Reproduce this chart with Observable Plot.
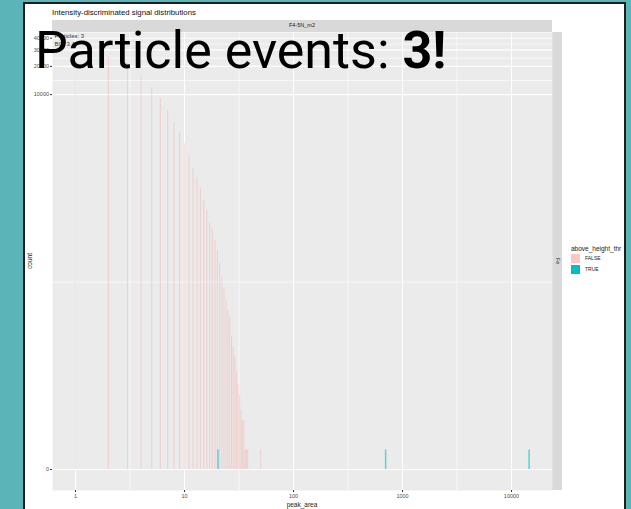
<!DOCTYPE html>
<html><head><meta charset="utf-8">
<script src="https://cdn.jsdelivr.net/npm/d3@7"></script>
<script src="https://cdn.jsdelivr.net/npm/@observablehq/plot@0.6"></script>
<style>
html,body{margin:0;padding:0;}
body{width:631px;height:509px;background:#5BB4B8;position:relative;overflow:hidden;font-family:"Liberation Sans",Arial,sans-serif;}
.abs{position:absolute;white-space:nowrap;line-height:1;}
#card{left:23px;top:2px;width:603px;height:512px;background:#fff;border:2px solid #1e1e1e;box-sizing:border-box;}
#chart{left:0;top:0;}
#title{left:52px;top:9px;font-size:7.8px;color:#111;}
#strip{left:52px;top:20px;width:500px;height:12px;background:#D9D9D9;font-size:5.5px;color:#1a1a1a;display:flex;align-items:center;justify-content:center;}
#rstrip{left:552px;top:32px;width:10px;height:458px;background:#D9D9D9;font-size:5px;color:#1a1a1a;}
#rstrip span{position:absolute;left:50%;top:50%;transform:translate(-50%,-50%) rotate(90deg);}
#ylab{left:30px;top:261px;font-size:6.5px;color:#1a1a1a;transform:translate(-50%,-50%) rotate(-90deg);}
#xlab{left:302px;top:505px;font-size:6.5px;color:#1a1a1a;transform:translate(-50%,-50%);}
#legend{left:571px;top:246px;font-size:6.5px;color:#1a1a1a;}
#legend .row{display:flex;align-items:center;height:10px;font-size:5px;margin-top:1px;}
#legend .key{width:9px;height:9px;margin-right:5px;}
#overlay{left:35px;top:33px;font-family:Roboto,"Noto Sans",sans-serif;font-size:52px;line-height:36px;color:#000;}
#overlay b{font-weight:700;}
</style></head><body>
<div id="card" class="abs"></div>
<div id="title" class="abs">Intensity-discriminated signal distributions</div>
<div id="strip" class="abs"></div>
<div id="rstrip" class="abs"><span></span></div>
<div id="chart" class="abs"></div>
<div id="ylab" class="abs">count</div>
<div id="xlab" class="abs">peak_area</div>
<div id="legend" class="abs"></div>
<div id="overlay" class="abs">Particle events: <b>3!</b></div>
<script>
// ---- data ----
const facetCol = "F4-5N_m2";
const facetRow = "Fe";
const legendTitle = "above_height_thr";
const groups = ["FALSE", "TRUE"];
const groupColors = ["#F8766D", "#00BFC4"];
const annotations = ["Particles: 3", "BG: 3.4"];

// FALSE signals: peak_area (integer) and count
const falseArea  = [1, 2, 3, 4, 5, 6, 7, 8, 9, 10, 11, 12, 13, 14, 15, 16, 17, 18, 19, 20,
                    21, 22, 23, 24, 25, 26, 27, 28, 29, 30, 31, 32, 33, 34, 35, 36, 37, 38, 50];
const falseCount = [20000, 25000, 21500, 16000, 11900, 9100, 6800, 5000, 3950, 3000,
                    2240, 1630, 1300, 1000, 740, 580, 430, 370, 280, 217,
                    158, 112, 87, 63, 50, 42, 26, 20, 16, 11, 8, 6, 4, 3, 3, 1, 1, 1, 1];
// TRUE signals (particle events)
const trueArea  = [20.3, 700, 14500];
const trueCount = [1, 1, 1];

const xTicks = [1, 10, 100, 1000, 10000];
const yTicks = [0, 10000, 20000, 30000, 40000];

// ---- build ----
const T = c => Math.asinh(c / 2); // pseudo-log transform (ggplot pseudo_log, sigma = 1)
const falseData = falseArea.map((a, i) => ({area: a, count: falseCount[i]}));
const trueData = trueArea.map((a, i) => ({area: a, count: trueCount[i]}));
const xMinor = xTicks.slice(1).map((t, i) => Math.sqrt(t * xTicks[i]));
const yMinor = yTicks.slice(1).map((t, i) => (T(t) + T(yTicks[i])) / 2);

document.getElementById("strip").textContent = facetCol;
document.querySelector("#rstrip span").textContent = facetRow;
const leg = document.getElementById("legend");
leg.innerHTML = `<div>${legendTitle}</div>` + groups.map((g, i) =>
  `<div class="row"><div class="key" style="background:${groupColors[i]};opacity:${i === 0 ? 0.4 : 1}"></div>${g}</div>`).join("");

const plot = Plot.plot({
  width: 631, height: 509,
  marginLeft: 52, marginRight: 79, marginTop: 32, marginBottom: 19,
  style: {background: "transparent", fontFamily: "Liberation Sans, Arial, sans-serif", fontSize: "5.5px", overflow: "visible"},
  x: {type: "log", domain: [0.615, 23770]},
  y: {domain: [-0.516, 10.737]},
  marks: [
    Plot.frame({fill: "#EBEBEB", stroke: "none"}),
    Plot.ruleY(yMinor, {y: d => d, stroke: "#fff", strokeWidth: 0.6}),
    Plot.ruleX(xMinor, {x: d => d, stroke: "#fff", strokeWidth: 0.6}),
    Plot.ruleY(yTicks, {y: d => T(d), stroke: "#fff", strokeWidth: 1.1}),
    Plot.ruleX(xTicks, {x: d => d, stroke: "#fff", strokeWidth: 1.1}),
    Plot.ruleX(falseData, {x: "area", y1: d => 0, y2: d => T(d.count), stroke: groupColors[0], strokeOpacity: 0.22, strokeWidth: 1.1}),
    Plot.ruleX(trueData, {x: "area", y1: d => 0, y2: d => T(d.count), stroke: groupColors[1], strokeOpacity: 0.6, strokeWidth: 1.5}),
    Plot.text([annotations.join("\n")], {frameAnchor: "top-left", dx: 2, dy: 0.5, fontSize: 6, lineHeight: 1.25, fill: "#333"}),
    Plot.axisX({ticks: xTicks, tickFormat: d => String(d), tickSize: 2, tickPadding: 2, stroke: "#333", fill: "#4D4D4D", label: null}),
    Plot.axisY({ticks: yTicks.map(T), tickFormat: t => String(Math.round(2 * Math.sinh(t))), tickSize: 2, tickPadding: 1.5, stroke: "#333", fill: "#4D4D4D", label: null})
  ]
});
document.getElementById("chart").appendChild(plot);
</script>
</body></html>
